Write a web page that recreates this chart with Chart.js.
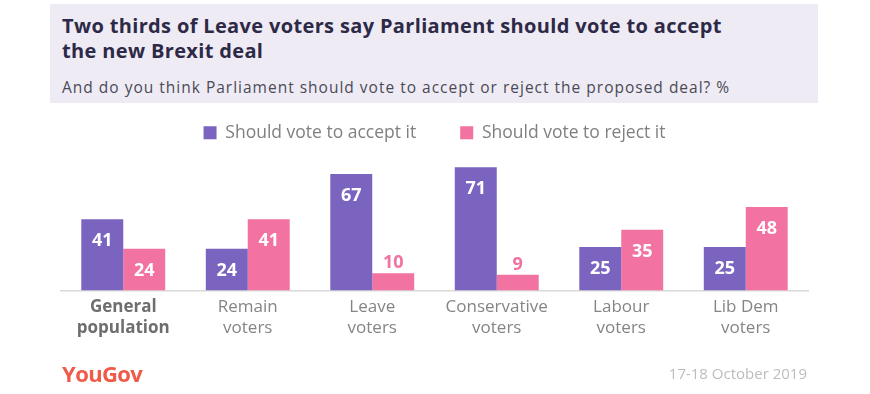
<!DOCTYPE html>
<html>
<head>
<meta charset="utf-8">
<script src="https://cdn.jsdelivr.net/npm/chart.js@4/dist/chart.umd.min.js"></script>
<style>
  html, body { margin: 0; padding: 0; background: #ffffff; }
  #wrap { position: relative; width: 870px; height: 394px; overflow: hidden; font-family: "Open Sans", Lato, sans-serif; }
  #header { position: absolute; left: 50px; top: 4px; width: 768px; height: 99px; background: #eeebf5; }
  #title { position: absolute; left: 12px; top: 9px; width: 750px; font-size: 20px; font-weight: 700; line-height: 25px; color: #2d2946; white-space: nowrap; letter-spacing: 0.35px; }
  #subtitle { position: absolute; left: 12px; top: 72px; font-size: 15.5px; color: #4a4a55; white-space: nowrap; letter-spacing: 1px; }
  #logo { position: absolute; left: 62px; top: 358px; font-size: 22px; font-weight: 700; color: #f05a48; letter-spacing: -0.6px; }
  #date { position: absolute; right: 63px; top: 363px; font-size: 15px; color: #bdbdbd; }
  #c { position: absolute; left: 0; top: 0; }
</style>
</head>
<body>
<div id="wrap">
  <div id="header">
    <div id="title">Two thirds of Leave voters say Parliament should vote to accept<br>the new Brexit deal</div>
    <div id="subtitle">And do you think Parliament should vote to accept or reject the proposed deal? %</div>
  </div>
  <canvas id="c" width="870" height="394"></canvas>
  <div id="logo">YouGov</div>
  <div id="date">17-18 October 2019</div>
</div>
<script>
const categories = [
  ["General", "population"],
  ["Remain", "voters"],
  ["Leave", "voters"],
  ["Conservative", "voters"],
  ["Labour", "voters"],
  ["Lib Dem", "voters"]
];
const seriesNames = ["Should vote to accept it", "Should vote to reject it"];
const acceptValues = [41, 24, 67, 71, 25, 25];
const rejectValues = [24, 41, 10, 9, 35, 48];
const seriesColors = ["#7b63c0", "#f272a1"];

const FONT = '"Open Sans", Lato, sans-serif';

const valueLabels = {
  id: 'valueLabels',
  afterDatasetsDraw(chart) {
    const ctx = chart.ctx;
    ctx.save();
    ctx.font = 'bold 18px ' + FONT;
    ctx.textAlign = 'center';
    ctx.textBaseline = 'middle';
    chart.data.datasets.forEach((ds, di) => {
      const meta = chart.getDatasetMeta(di);
      meta.data.forEach((bar, i) => {
        const v = ds.data[i];
        if (v < 15) {
          ctx.fillStyle = ds.backgroundColor;
          ctx.fillText(String(v), bar.x, bar.y - 10);
        } else {
          ctx.fillStyle = '#ffffff';
          ctx.fillText(String(v), bar.x, bar.y + 22);
        }
      });
    });
    ctx.restore();
  }
};

new Chart(document.getElementById('c'), {
  type: 'bar',
  data: {
    labels: categories,
    datasets: [
      { label: seriesNames[0], data: acceptValues, backgroundColor: seriesColors[0] },
      { label: seriesNames[1], data: rejectValues, backgroundColor: seriesColors[1] }
    ]
  },
  options: {
    responsive: false,
    animation: false,
    devicePixelRatio: 1,
    layout: { padding: { left: 61, right: 62, top: 80, bottom: 49 } },
    datasets: { bar: { categoryPercentage: 0.674, barPercentage: 1.0, borderWidth: 0 } },
    plugins: {
      legend: {
        position: 'top',
        align: 'center',
        labels: {
          boxWidth: 13,
          boxHeight: 13,
          padding: 44,
          color: '#808080',
          font: { size: 17.5, family: FONT }
        }
      },
      tooltip: { enabled: false },
      title: { display: false }
    },
    scales: {
      x: {
        grid: { display: false, drawTicks: false },
        border: { display: true, color: '#d9d9d9', width: 1.5 },
        ticks: {
          padding: 6,
          maxRotation: 0,
          autoSkip: false,
          color: (c) => c.index === 0 ? '#6e6e6e' : '#858585',
          font: (c) => ({ size: 17, family: FONT, weight: c.index === 0 ? 'bold' : 'normal', lineHeight: 1.25 })
        }
      },
      y: {
        display: false,
        min: 0,
        max: 80
      }
    }
  },
  plugins: [valueLabels]
});
</script>
</body>
</html>
